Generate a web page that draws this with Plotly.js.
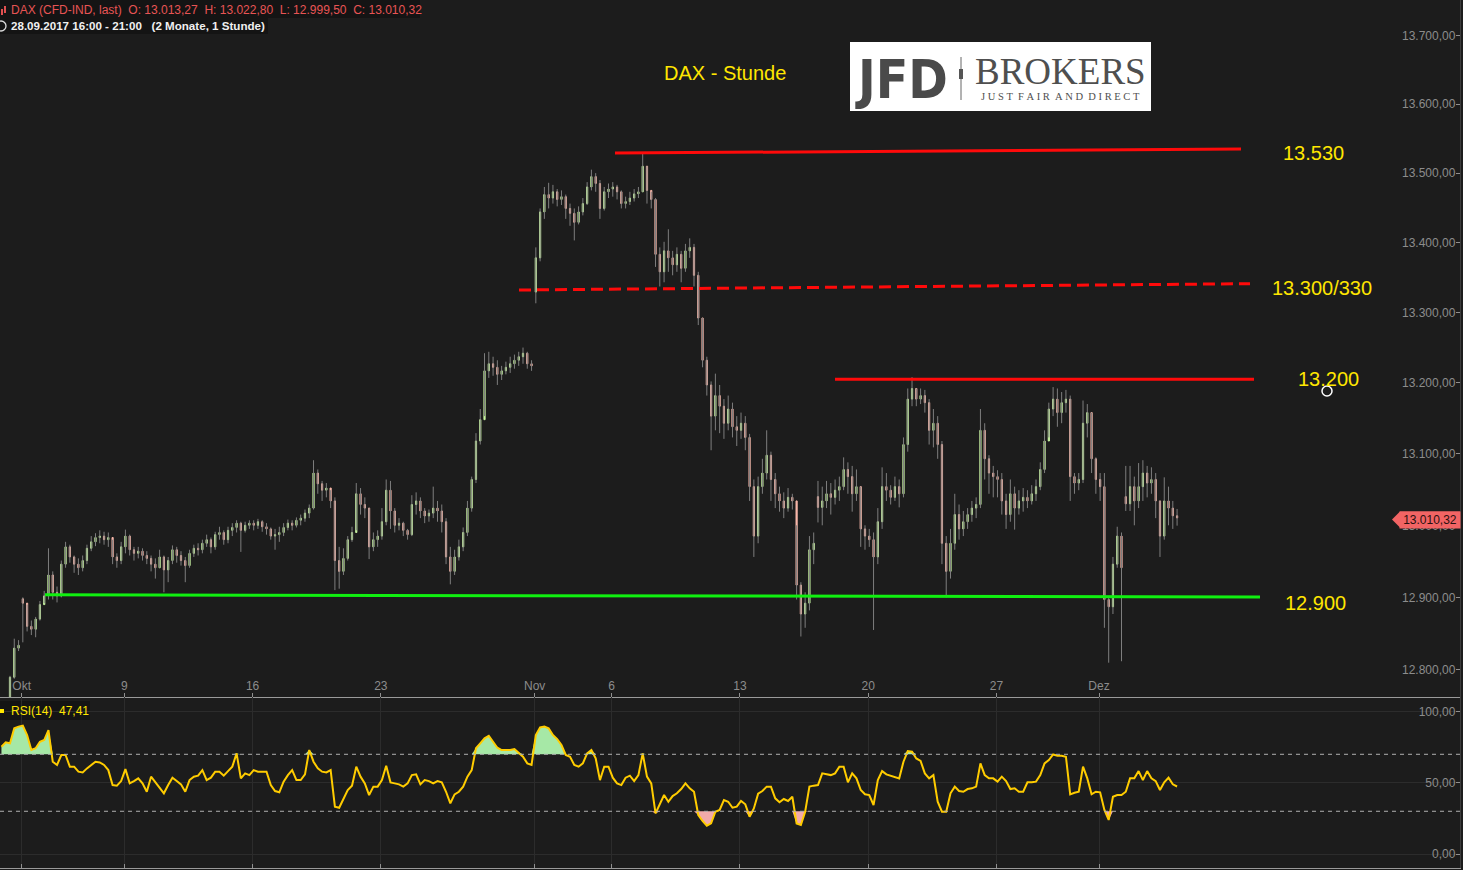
<!DOCTYPE html>
<html><head><meta charset="utf-8">
<script src="https://cdn.plot.ly/plotly-3.0.1.min.js"></script>
<style>html,body{margin:0;padding:0;background:#1c1c1c;overflow:hidden}#chart{width:1463px;height:870px}</style>
</head><body><div id="chart"></div>
<script>
// ---------- DATA (price axis is logarithmic) ----------
const firstOpen = 12732;
// bars that open with an overnight gap (index and opening price)
const gapIndex = [5, 125, 191, 263];
const gapOpens = [12898, 13329, 13040, 13040];
const closes = [
12742,12754,12790,12830,12834,
12892,12860,12856,12870,12890,12902,
12931,12907,12902,12946,12970,12956,
12946,12941,12951,12968,12977,12983,
12985,12980,12983,12956,12951,12970,
12985,12966,12961,12964,12958,12954,
12946,12941,12956,12938,12951,12966,
12958,12951,12944,12961,12968,12966,
12975,12980,12970,12987,12990,12980,
12993,12997,13003,12993,13000,13003,
13000,13005,12998,12995,12985,12987,
12990,12997,13003,13000,13007,13010,
13017,13024,13073,13058,13049,13052,
13034,12951,12936,12954,12980,12990,
13044,13029,13024,12970,12980,12985,
13005,13049,13020,13000,13003,12993,
12987,13029,13034,13020,13013,13017,
13024,13020,13005,12956,12936,12956,
12970,12990,13024,13064,13118,13148,
13217,13227,13222,13212,13217,13222,
13227,13232,13237,13242,13227,13224,
13378,13444,13469,13464,13473,13462,
13466,13449,13442,13429,13444,13456,
13480,13495,13485,13449,13473,13477,
13480,13473,13456,13459,13464,13470,
13473,13510,13475,13462,13383,13358,
13388,13378,13368,13383,13363,13388,
13393,13353,13292,13232,13197,13153,
13182,13167,13143,13163,13138,13133,
13143,13123,13054,12985,13054,13073,
13098,13064,13044,13034,13024,13039,
13034,12917,12877,12892,12966,12975,
13025,13034,13044,13039,13049,13054,
13078,13068,13044,13054,12995,12985,
12980,12956,13005,13054,13049,13039,
13054,13044,13113,13177,13192,13177,
13182,13172,13133,13143,13113,12975,
12936,12975,13015,12995,13005,13015,
13024,13029,13133,13093,13073,13068,
13064,13034,13015,13044,13024,13034,
13039,13034,13044,13054,13078,13118,
13163,13177,13158,13172,13177,13068,
13059,13064,13143,13158,13093,13064,
13054,12897,12887,12946,12985,12941,
13030,13054,13034,13054,13073,13059,
13064,13034,12985,13034,13024,13013.27,13010.32];
const highs = [
12757,12760,12792,12843,12841,
12900,12890,12868,12873,12895,12909,
12968,12936,12915,12951,12977,12973,
12958,12954,12958,12973,12985,12989,
12993,12991,12990,12980,12961,12977,
12994,12987,12970,12970,12968,12964,
12958,12954,12966,12958,12956,12972,
12970,12964,12956,12966,12973,12975,
12980,12987,12983,12991,12998,12993,
12998,13003,13007,13005,13005,13007,
13007,13009,13007,13003,12997,12995,
12998,13003,13008,13007,13011,13015,
13022,13029,13091,13078,13062,13059,
13049,13039,12970,12968,12985,12998,
13059,13052,13039,13024,12990,12993,
13024,13064,13062,13024,13010,13005,
12995,13042,13046,13039,13024,13022,
13054,13034,13029,13010,12970,12966,
12980,12997,13034,13068,13129,13163,
13242,13244,13237,13232,13224,13230,
13237,13240,13244,13250,13244,13232,
13393,13449,13480,13486,13483,13477,
13475,13469,13456,13449,13452,13464,
13487,13505,13500,13490,13480,13485,
13487,13483,13475,13466,13473,13477,
13480,13529,13510,13473,13464,13393,
13401,13419,13388,13393,13388,13398,
13406,13398,13358,13292,13237,13202,
13213,13197,13177,13182,13172,13153,
13158,13153,13128,13064,13068,13093,
13133,13103,13073,13054,13046,13052,
13044,13000,12921,12907,12985,12990,
13062,13054,13062,13059,13064,13068,
13095,13088,13083,13078,13054,13000,
12995,12990,13024,13081,13073,13056,
13068,13064,13123,13192,13208,13192,
13192,13190,13177,13163,13153,13118,
12985,12995,13044,13029,13020,13024,
13034,13039,13163,13143,13098,13083,
13077,13073,13044,13064,13054,13049,
13052,13049,13056,13064,13088,13133,
13172,13194,13192,13187,13190,13182,
13073,13073,13175,13170,13158,13095,
13073,13073,12902,12956,12998,12990,
13083,13083,13068,13087,13091,13083,
13081,13073,13034,13067,13054,13034,13022.8];
const lows = [
12737,12740,12757,12788,12826,
12838,12853,12848,12845,12868,12892,
12897,12897,12893,12900,12941,12948,
12934,12931,12936,12946,12964,12971,
12975,12973,12970,12946,12941,12946,
12961,12958,12951,12954,12951,12946,
12936,12926,12941,12907,12921,12946,
12948,12944,12921,12941,12956,12958,
12961,12970,12961,12966,12980,12973,
12975,12985,12990,12963,12990,12995,
12993,12995,12991,12987,12980,12966,
12977,12985,12993,12993,12997,13000,
13005,13010,13022,13044,13034,13039,
13024,12910,12912,12931,12951,12977,
12993,13015,13010,12953,12964,12970,
12980,13000,12995,12990,12993,12985,
12980,12985,13015,13010,13003,13005,
13010,13005,12990,12946,12918,12931,
12951,12964,12985,13019,13059,13113,
13153,13207,13210,13197,13204,13212,
13214,13220,13224,13227,13220,13217,
13313,13373,13434,13449,13456,13452,
13454,13434,13424,13403,13426,13439,
13454,13475,13473,13434,13446,13464,
13466,13462,13449,13449,13454,13459,
13464,13473,13456,13449,13365,13337,
13343,13358,13353,13358,13343,13358,
13378,13337,13282,13222,13182,13105,
13133,13129,13121,13133,13123,13111,
13121,13105,13034,12956,12975,13044,
13064,13034,13024,13019,13010,13019,
13022,12897,12846,12858,12882,12946,
13004,13000,13024,13015,13029,13034,
13049,13044,13019,13034,12970,12966,
12970,12855,12946,12995,13034,13029,
13034,13025,13039,13103,13167,13167,
13170,13158,13113,13109,13093,12946,
12900,12926,12966,12980,12985,12995,
13005,13010,13024,13064,13044,13039,
13039,13015,12995,13005,12994,13015,
13019,13024,13029,13034,13049,13073,
13123,13153,13138,13143,13158,13034,
13044,13049,13059,13123,13073,13044,
13034,12858,12810,12877,12941,12812,
13020,13020,13000,13024,13034,13039,
13044,13010,12956,12980,13000,12995,12999.5];
const rsi = [
75.3,78.4,77.7,88.2,89.4,90.1,83.5,73.0,74.2,78.8,
80.0,87.0,64.8,62.5,69.5,69.5,61.3,61.3,57.8,57.3,
60.1,62.5,64.8,64.3,62.5,58.9,48.4,48.0,51.2,59.6,
49.6,51.2,53.1,49.6,43.7,54.3,50.3,46.1,42.6,48.4,
53.6,51.2,48.9,43.7,51.9,54.3,55.0,58.9,51.9,53.6,
57.8,57.8,55.0,58.2,61.3,70.6,53.1,56.6,55.4,58.9,
57.8,57.8,57.8,48.4,44.2,43.3,50.8,55.4,58.9,51.9,
51.9,55.9,73.0,64.8,60.1,57.8,57.3,58.9,33.2,32.5,
38.6,44.9,48.0,61.3,54.3,49.6,41.4,47.3,47.3,51.9,
62.0,50.3,49.6,48.9,47.3,49.6,55.4,55.9,48.9,51.9,
51.2,49.6,51.2,50.3,43.7,35.6,41.9,43.7,47.3,54.3,
58.9,74.2,77.7,81.2,83.0,78.8,74.6,73.0,73.0,73.0,
73.7,71.3,68.3,63.6,62.5,83.5,88.9,89.4,88.2,83.5,
80.7,76.5,69.5,68.3,62.5,61.3,63.6,70.6,73.0,67.1,
51.9,61.3,61.3,53.6,49.6,48.4,53.6,55.0,51.2,55.4,
70.6,54.3,49.6,28.5,34.4,41.4,36.7,40.7,42.6,45.6,
49.6,46.1,43.7,27.4,23.2,19.9,21.5,29.7,30.9,37.9,
36.7,32.5,33.2,37.2,34.9,26.2,32.0,42.3,44.2,47.3,
47.3,39.1,36.3,38.6,37.2,40.2,21.5,20.4,29.7,47.3,
48.0,48.4,56.6,55.9,55.4,56.6,61.3,61.3,50.3,56.6,
53.1,44.9,41.9,41.4,34.4,51.9,58.2,55.9,55.0,54.3,
53.1,64.8,72.3,71.8,67.1,65.3,56.6,53.1,55.4,36.7,
29.7,29.7,42.6,47.3,44.2,43.7,45.6,46.1,47.3,63.6,
55.4,53.1,53.1,50.8,54.3,51.2,45.6,46.1,43.7,43.7,
50.3,50.3,50.8,55.4,63.6,66.0,69.9,69.0,69.0,68.3,
41.9,43.0,43.7,61.3,53.1,41.9,43.7,43.3,30.9,23.9,
40.2,41.4,41.4,43.7,53.1,53.1,58.2,51.9,58.2,53.1,
51.2,44.9,50.3,53.6,48.9,47.41];
const tickDays = [0,4,9,14,20,23,28,33,38,42];
const tickLabels = ['Okt','9','16','23','Nov','6','13','20','27','Dez'];
const priceTicks = [12800,12900,13000,13100,13200,13300,13400,13500,13600,13700];
const rsiTicks = [0,50,100];
const priceRange = [12763.0, 13752.8];
const levelLabels = ['13.530','13.300/330','13.200','12.900'];
const levelStartValues = [13529,13332,13205,12903.5];
const levelEndValues = [13535,13341,13205,12900.6];
const lastPriceText = '13.010,32';
const rsiLast = '47,41';

// ---------- LAYOUT / STYLE ----------
const PW = 1460, PH = 870;
const px = v => v / PW, py = v => 1 - v / PH;
const barsPerDay = 6, dayOffset = 4.737;
const xr = [-0.339, 341.18];
const mainDom = [1 - 697 / PH, 1];
const rsiDom = [1 - 868 / PH, 1 - 697 / PH];
const FONT = 'Liberation Sans, Arial, sans-serif';
const SERIF = 'Liberation Serif, Times New Roman, serif';
const YEL = '#ffe600';

const xs = closes.map((_, i) => i);
const opens = [firstOpen].concat(closes.slice(0, -1));
gapIndex.forEach((idx, k) => { opens[idx] = gapOpens[k]; });
const bodyHi = closes.map((c, i) => Math.max(c, opens[i]));
const bodyLo = closes.map((c, i) => Math.min(c, opens[i]));
const tickPos = tickDays.map(d => dayOffset + barsPerDay * d);

const traces = [
  {type: 'ohlc', x: xs, open: opens, high: highs, low: lows, close: closes,
   increasing: {line: {color: '#7e7e7e', width: 1}}, decreasing: {line: {color: '#7e7e7e', width: 1}},
   tickwidth: 0, hoverinfo: 'skip', showlegend: false, xaxis: 'x', yaxis: 'y'},
  {type: 'candlestick', x: xs, open: opens, high: bodyHi, low: bodyLo, close: closes,
   increasing: {line: {color: '#c8f5a0', width: 1}, fillcolor: '#c8f5a0'},
   decreasing: {line: {color: '#f7b6a8', width: 1}, fillcolor: '#f7b6a8'},
   whiskerwidth: 0, hoverinfo: 'skip', showlegend: false, xaxis: 'x', yaxis: 'y'},
  {type: 'scatter', mode: 'lines', x: xs, y: xs.map(() => 70), line: {width: 0}, hoverinfo: 'skip', showlegend: false, xaxis: 'x2', yaxis: 'y2'},
  {type: 'scatter', mode: 'lines', x: xs, y: rsi.map(v => Math.max(v, 70)), fill: 'tonexty', fillcolor: '#a6e8a6', line: {width: 0}, hoverinfo: 'skip', showlegend: false, xaxis: 'x2', yaxis: 'y2'},
  {type: 'scatter', mode: 'lines', x: xs, y: xs.map(() => 30), line: {width: 0}, hoverinfo: 'skip', showlegend: false, xaxis: 'x2', yaxis: 'y2'},
  {type: 'scatter', mode: 'lines', x: xs, y: rsi.map(v => Math.min(v, 30)), fill: 'tonexty', fillcolor: '#f2aaaa', line: {width: 0}, hoverinfo: 'skip', showlegend: false, xaxis: 'x2', yaxis: 'y2'},
  {type: 'scatter', mode: 'lines', x: xs, y: rsi, line: {color: '#ffcc00', width: 2}, hoverinfo: 'skip', showlegend: false, xaxis: 'x2', yaxis: 'y2'}
];

const shapes = [
  {type: 'rect', xref: 'paper', yref: 'paper', x0: px(0), x1: px(420), y0: py(0), y1: py(18), fillcolor: '#141414', line: {width: 0}, layer: 'below'},
  {type: 'rect', xref: 'paper', yref: 'paper', x0: px(0), x1: px(268), y0: py(18), y1: py(34), fillcolor: '#141414', line: {width: 0}, layer: 'below'},
  {type: 'rect', xref: 'paper', yref: 'paper', x0: px(0), x1: px(90), y0: py(701), y1: py(720), fillcolor: '#141414', line: {width: 0}, layer: 'below'},
  {type: 'rect', xref: 'paper', yref: 'paper', x0: px(0), x1: px(4), y0: py(709), y1: py(713), fillcolor: YEL, line: {width: 0}},
  {type: 'rect', xref: 'paper', yref: 'paper', x0: px(1), x1: px(3), y0: py(9), y1: py(15), fillcolor: '#e05050', line: {width: 0}},
  {type: 'rect', xref: 'paper', yref: 'paper', x0: px(4), x1: px(6), y0: py(6), y1: py(13), fillcolor: '#e05050', line: {width: 0}},
  {type: 'circle', xref: 'paper', yref: 'paper', x0: px(-4), x1: px(6), y0: py(21), y1: py(31), line: {color: '#dddddd', width: 1.3}},
  {type: 'line', xref: 'paper', yref: 'y2', x0: 0, x1: 1, y0: 70, y1: 70, line: {color: '#b0b0b0', width: 1, dash: '4px,4px'}},
  {type: 'line', xref: 'paper', yref: 'y2', x0: 0, x1: 1, y0: 30, y1: 30, line: {color: '#b0b0b0', width: 1, dash: '4px,4px'}},
  {type: 'line', xref: 'paper', yref: 'y', x0: px(615), x1: px(1241), y0: levelStartValues[0], y1: levelEndValues[0], line: {color: '#ff0a0a', width: 3}},
  {type: 'line', xref: 'paper', yref: 'y', x0: px(519), x1: px(1250), y0: levelStartValues[1], y1: levelEndValues[1], line: {color: '#ff0a0a', width: 3, dash: '12px,6px'}},
  {type: 'line', xref: 'paper', yref: 'y', x0: px(835), x1: px(1254), y0: levelStartValues[2], y1: levelEndValues[2], line: {color: '#ff0a0a', width: 3}},
  {type: 'line', xref: 'paper', yref: 'y', x0: px(45), x1: px(1260), y0: levelStartValues[3], y1: levelEndValues[3], line: {color: '#10f010', width: 3}},
  {type: 'rect', xref: 'paper', yref: 'paper', x0: px(850), x1: px(1151), y0: py(42), y1: py(111), fillcolor: '#ffffff', line: {width: 0}},
  {type: 'line', xref: 'paper', yref: 'paper', x0: px(961), x1: px(961), y0: py(57), y1: py(100), line: {color: '#666666', width: 1}},
  {type: 'rect', xref: 'paper', yref: 'paper', x0: px(959), x1: px(963), y0: py(69), y1: py(79), fillcolor: '#555555', line: {width: 0}},
  {type: 'path', xref: 'paper', yref: 'paper',
   path: `M ${px(1392)},${py(519.5)} L ${px(1400)},${py(511.5)} L ${px(1460)},${py(511.5)} L ${px(1460)},${py(527.5)} L ${px(1400)},${py(527.5)} Z`,
   fillcolor: '#f26464', line: {width: 0}},
  {type: 'circle', xref: 'paper', yref: 'paper', x0: px(1322), x1: px(1332), y0: py(386), y1: py(396), line: {color: '#ffffff', width: 1.5}}
];

const ann = (x, y, text, opts) => Object.assign({xref: 'paper', yref: 'paper', x: px(x), y: py(y), text: text, showarrow: false, xanchor: 'center', yanchor: 'middle'}, opts);
const nb = '\u00a0';
const annotations = [
  ann(9, 10, `DAX (CFD-IND, last)${nb}${nb}O: 13.013,27${nb}${nb}H: 13.022,80${nb}${nb}L: 12.999,50${nb}${nb}C: 13.010,32`, {xanchor: 'left', font: {family: FONT, size: 12, color: '#e85454'}}),
  ann(9, 26, `<b>28.09.2017 16:00 - 21:00${nb}${nb}${nb}(2 Monate, 1 Stunde)</b>`, {xanchor: 'left', font: {family: FONT, size: 11.6, color: '#f0f0f0'}}),
  ann(725, 73, 'DAX - Stunde', {font: {family: FONT, size: 20, color: YEL}}),
  ann(1313, 153, levelLabels[0], {font: {family: FONT, size: 20, color: YEL}}),
  ann(1322, 288, levelLabels[1], {font: {family: FONT, size: 20, color: YEL}}),
  ann(1328, 379, levelLabels[2], {font: {family: FONT, size: 20, color: YEL}}),
  ann(1315, 603, levelLabels[3], {font: {family: FONT, size: 20, color: YEL}}),
  ann(901, 79, '<b>JFD</b>', {font: {family: 'DejaVu Sans Condensed, Roboto, Liberation Sans, sans-serif', size: 53, color: '#4a4a4a'}}),
  ann(1060, 72, 'BROKERS', {font: {family: SERIF, size: 37, color: '#4f4f4f'}}),
  ann(1060, 96, ['J','U','S','T','', 'F','A','I','R','', 'A','N','D','', 'D','I','R','E','C','T'].join(nb), {font: {family: SERIF, size: 10.5, color: '#4f4f4f'}}),
  ann(9, 711, `RSI(14)${nb}${nb}${rsiLast}`, {xanchor: 'left', font: {family: FONT, size: 12, color: YEL}}),
  ann(1430, 519.5, lastPriceText, {font: {family: FONT, size: 12, color: '#2a1010'}, bgcolor: '#f26464', width: 58, height: 14, borderpad: 1})
];

const axisFont = {family: FONT, size: 12, color: '#8c8c8c'};
const layout = {
  width: 1463, height: 870,
  margin: {l: 0, r: 3, t: 0, b: 0, pad: 0},
  paper_bgcolor: '#1c1c1c', plot_bgcolor: '#1c1c1c',
  separators: ',.',
  showlegend: false,
  boxgap: 0.6,
  dragmode: false,
  xaxis: {domain: [0, 1], range: xr, anchor: 'y', tickvals: tickPos, ticktext: tickLabels,
          ticks: 'inside', ticklen: 4, tickcolor: '#909090', ticklabelposition: 'inside',
          tickfont: axisFont, showgrid: false, zeroline: false, showline: true, linecolor: '#9a9a9a', linewidth: 1,
          rangeslider: {visible: false}, fixedrange: true},
  xaxis2: {domain: [0, 1], range: xr, anchor: 'y2', tickvals: tickPos, showticklabels: false,
           ticks: 'inside', ticklen: 4, tickcolor: '#909090', showgrid: true, gridcolor: '#2c2c2c',
           zeroline: false, showline: true, linecolor: '#9a9a9a', linewidth: 1, fixedrange: true},
  yaxis: {domain: mainDom, type: 'log', range: priceRange.map(Math.log10), anchor: 'x', side: 'right', tickvals: priceTicks,
          tickformat: ',.2f', ticks: 'inside', ticklen: 4, tickcolor: '#909090', ticklabelposition: 'inside',
          tickfont: axisFont, showgrid: false, zeroline: false, showline: true, linecolor: '#3c3c3c', fixedrange: true},
  yaxis2: {domain: rsiDom, range: [-9.8, 110.2], anchor: 'x2', side: 'right', tickvals: rsiTicks,
           tickformat: ',.2f', ticks: 'inside', ticklen: 4, tickcolor: '#909090', ticklabelposition: 'inside',
           tickfont: axisFont, showgrid: true, gridcolor: '#2c2c2c', zeroline: false, showline: true, linecolor: '#3c3c3c', fixedrange: true},
  shapes: shapes,
  annotations: annotations
};

Plotly.newPlot('chart', traces, layout, {displayModeBar: false, staticPlot: true});
</script>
</body></html>
